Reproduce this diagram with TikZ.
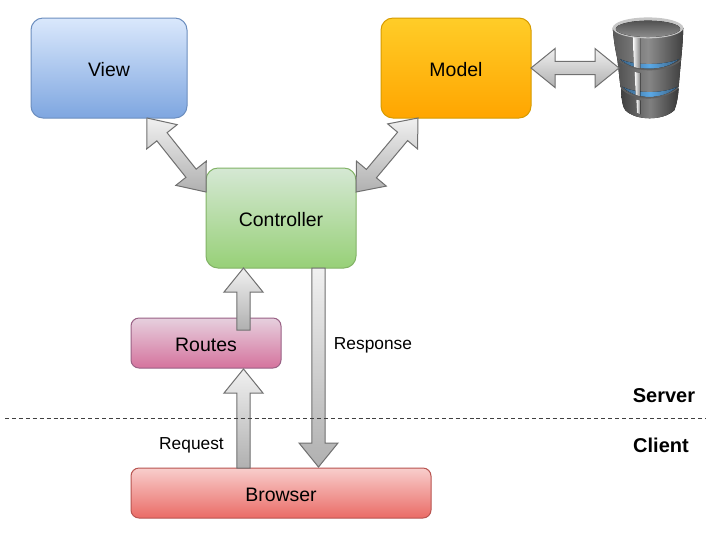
\documentclass[tikz,border=0pt]{standalone}
\usepackage{fontspec}
\setmainfont{Liberation Sans}
\usetikzlibrary{calc}
\definecolor{arrowtop}{HTML}{F0F0F0}
\definecolor{arrowbot}{HTML}{B0B0B0}
\definecolor{arrowline}{HTML}{707070}
\definecolor{viewline}{HTML}{6C8EBF}
\definecolor{viewtop}{HTML}{DAE8FC}
\definecolor{viewbot}{HTML}{7EA6E0}
\definecolor{modelline}{HTML}{D79B00}
\definecolor{modeltop}{HTML}{FFCD28}
\definecolor{modelbot}{HTML}{FFA500}
\definecolor{ctrlline}{HTML}{82B366}
\definecolor{ctrltop}{HTML}{D5E8D4}
\definecolor{ctrlbot}{HTML}{97D077}
\definecolor{routesline}{HTML}{996185}
\definecolor{routestop}{HTML}{E6D0DE}
\definecolor{routesbot}{HTML}{D5739D}
\definecolor{browserline}{HTML}{B85450}
\definecolor{browsertop}{HTML}{F8CECC}
\definecolor{browserbot}{HTML}{EA6B66}
\definecolor{glow}{HTML}{5AA8E6}
\definecolor{glowend}{HTML}{3A5F80}
\tikzset{
  box/.style={draw=#1line,top color=#1top,bottom color=#1bot,line width=0.75pt,inner sep=0pt,outer sep=0pt,rounded corners=9pt,text height=13.4pt,text depth=0pt,font=\fontsize{14.6pt}{16pt}\selectfont},
  blockarrow/.style={draw=arrowline,line width=0.75pt,top color=arrowtop,bottom color=arrowbot,line join=miter},
  plainlabel/.style={inner sep=0pt,font=\fontsize{13pt}{15pt}\selectfont},
  zonelabel/.style={inner sep=0pt,font=\fontsize{15pt}{17pt}\selectfont\bfseries},
}
% head length 18pt, head half width 14.6pt, shaft half width 4.9pt
\newcommand{\singlearrow}[2]{%
  \path[blockarrow] (#2)
    -- ($(#2)!18pt!(#1)!14.6pt!90:(#1)$)
    -- ($(#2)!18pt!(#1)!4.9pt!90:(#1)$)
    -- ($(#1)!4.9pt!-90:(#2)$)
    -- ($(#1)!4.9pt!90:(#2)$)
    -- ($(#2)!18pt!(#1)!4.9pt!-90:(#1)$)
    -- ($(#2)!18pt!(#1)!14.6pt!-90:(#1)$)
    -- cycle;}
\newcommand{\bothwaysarrow}[2]{%
  \path[blockarrow] (#2)
    -- ($(#2)!18pt!(#1)!14.6pt!90:(#1)$)
    -- ($(#2)!18pt!(#1)!4.9pt!90:(#1)$)
    -- ($(#1)!18pt!(#2)!4.9pt!-90:(#2)$)
    -- ($(#1)!18pt!(#2)!14.6pt!-90:(#2)$)
    -- (#1)
    -- ($(#1)!18pt!(#2)!14.6pt!90:(#2)$)
    -- ($(#1)!18pt!(#2)!4.9pt!90:(#2)$)
    -- ($(#2)!18pt!(#1)!4.9pt!-90:(#1)$)
    -- ($(#2)!18pt!(#1)!14.6pt!-90:(#1)$)
    -- cycle;}
\begin{document}
\begin{tikzpicture}[x=0.75pt,y=-0.75pt]
\useasboundingbox[fill=white] (0,0) rectangle (713,537);
% boxes
\node[box=view,minimum width=117pt,minimum height=75pt] (view) at (109,68) {View};
\node[box=model,minimum width=112.5pt,minimum height=75pt] (model) at (456,68) {Model};
\node[box=ctrl,minimum width=112.5pt,minimum height=75pt] (controller) at (281,218) {Controller};
\node[box=routes,rounded corners=6pt,minimum width=112.5pt,minimum height=37.5pt] (routes) at (206,343) {Routes};
\node[box=browser,rounded corners=6pt,minimum width=225pt,minimum height=37.5pt] (browser) at (281,493) {Browser};
% database
\begin{scope}[shift={(602,5)},x=0.23pt,y=-0.245pt]
  \fill[left color=black!75,right color=black!78,middle color=black!50] (62,255) .. controls (64,290) and (66,310) .. (76,322) .. controls (110,355) and (200,355) .. (236,322) .. controls (245,300) and (248,280) .. (250,255) -- cycle;
  \fill[left color=black!68,right color=black!75,middle color=black!48] (50,165) -- (60,250) .. controls (100,292) and (200,292) .. (250,250) -- (258,165) -- cycle;
  \fill[left color=black!65,right color=black!75,middle color=black!45] (35,70) .. controls (38,110) and (44,140) .. (50,165) .. controls (100,205) and (210,205) .. (258,165) .. controls (262,130) and (264,100) .. (265,70) -- cycle;
  % blue glow
  \fill[left color=glowend,right color=glowend,middle color=glow] (58,165) .. controls (100,205) and (205,205) .. (252,165) .. controls (205,186) and (100,186) .. (58,165) -- cycle;
  \fill[left color=glowend,right color=glowend,middle color=glow] (66,250) .. controls (110,292) and (200,292) .. (246,250) .. controls (200,272) and (110,272) .. (66,250) -- cycle;
  \fill[black!62] (50,165) .. controls (100,205) and (210,205) .. (258,165) -- (258,170) .. controls (210,210) and (100,210) .. (52,170) -- cycle;
  \fill[black!62] (60,250) .. controls (100,292) and (200,292) .. (250,250) -- (248,255) .. controls (200,297) and (100,297) .. (62,255) -- cycle;
  % highlight
  \fill[left color=white,right color=black!50] (100,95) -- (125,98) -- (125,195) -- (104,190) -- cycle;
  \fill[left color=white,right color=black!50] (106,205) -- (125,208) -- (125,280) -- (110,275) -- cycle;
  \fill[left color=white,right color=black!50] (112,290) -- (125,292) -- (125,335) -- (114,330) -- cycle;
  % rim
  \fill[black!22] (150,70) ellipse (115 and 32);
  \fill[top color=black!68,bottom color=black!45] (150,73) ellipse (105 and 25);
\end{scope}
% connector ends
\coordinate (viewend) at ($(view.south west)+(116,0)$);
\coordinate (ctrlleft) at ($(controller.west)+(0,-26)$);
\coordinate (modelend) at ($(model.south west)+(37,0)$);
\coordinate (ctrlright) at ($(controller.east)+(0,-26)$);
\coordinate (modelright) at (model.east);
\coordinate (dbleft) at (619,68);
\coordinate (ctrlbottomleft) at ($(controller.south)+(-37.5,0)$);
\coordinate (routesinner) at ($(routes.north)+(37.5,12)$);
\coordinate (routesbottom) at ($(routes.south)+(37.5,1)$);
\coordinate (browserleft) at ($(browser.north)+(-37.5,0)$);
\coordinate (ctrlbottomright) at ($(controller.south)+(37.5,0)$);
\coordinate (browserright) at ($(browser.north)+(37.5,-1)$);
% connectors
\bothwaysarrow{viewend}{ctrlleft}
\bothwaysarrow{modelend}{ctrlright}
\bothwaysarrow{modelright}{dbleft}
\singlearrow{routesinner}{ctrlbottomleft}
\singlearrow{browserleft}{routesbottom}
\singlearrow{ctrlbottomright}{browserright}
% labels
\node[plainlabel] (request) at (191.5,445.5) {Request};
\node[plainlabel] (response) at (373,345.5) {Response};
\node[zonelabel] (server) at (664,396) {Server};
\node[zonelabel] (client) at (661,445) {Client};
% divider
\coordinate (dashstart) at (5,418);
\coordinate (dashend) at (706,418);
\draw[line width=0.7pt,dash pattern=on 3pt off 2.2pt,black!75] (dashstart) -- (dashend);
\end{tikzpicture}
\end{document}
